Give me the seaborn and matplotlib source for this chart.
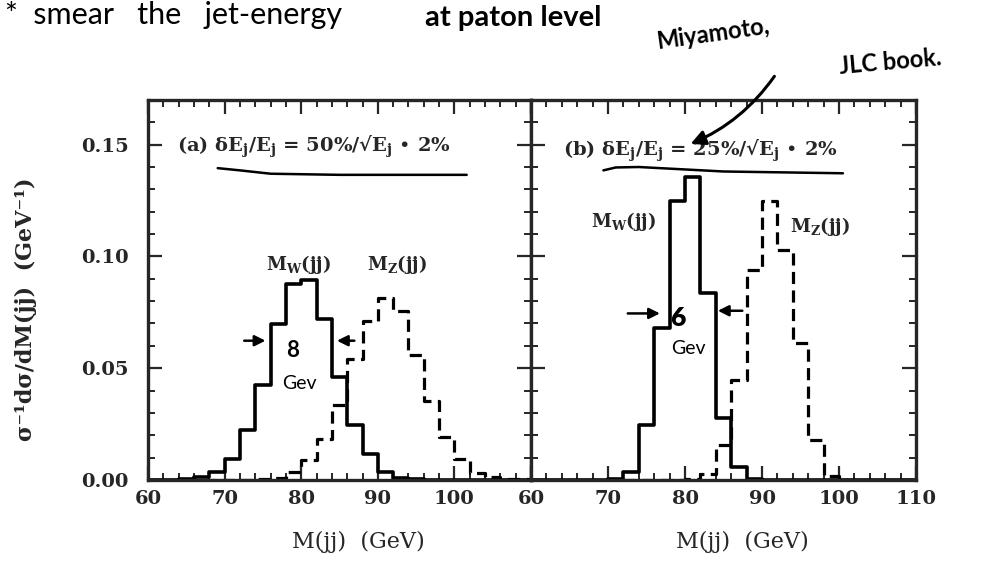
import numpy as np
import pandas as pd
import matplotlib
matplotlib.use("Agg")
import matplotlib.pyplot as plt
import seaborn as sns

# bin edges shared by every histogram (2 GeV bins from 60 to 110 GeV)
edges = list(range(60, 112, 2))
centers = [e + 1 for e in edges[:-1]]

# (a) dE/E = 50%/sqrt(E) (+) 2%
w_a = [0, 0, 0.0005, 0.0015, 0.0037, 0.0092, 0.0222, 0.0426, 0.0697, 0.0875,
       0.0893, 0.0720, 0.0460, 0.0245, 0.0116, 0.0037, 0.0010, 0.0003, 0, 0,
       0, 0, 0, 0, 0]
z_a = [0, 0, 0, 0, 0, 0, 0, 0.0003, 0.0010, 0.0037,
       0.0089, 0.0185, 0.0334, 0.0542, 0.0712, 0.0813, 0.0757, 0.0560, 0.0352, 0.0190,
       0.0092, 0.0033, 0.0012, 0.0005, 0.0003]

# (b) dE/E = 25%/sqrt(E) (+) 2%
w_b = [0, 0, 0, 0, 0, 0.0005, 0.0037, 0.0245, 0.0682, 0.1246,
       0.1357, 0.0835, 0.0278, 0.0059, 0.0005, 0, 0, 0, 0, 0,
       0, 0, 0, 0, 0]
z_b = [0, 0, 0, 0, 0, 0, 0, 0, 0, 0,
       0.0005, 0.0025, 0.0156, 0.0448, 0.0938, 0.1249, 0.1031, 0.0613, 0.0181, 0.0018,
       0, 0, 0, 0, 0]

x_ticks = [60, 70, 80, 90, 100, 110]
y_ticks = [0.00, 0.05, 0.10, 0.15]

sns.set_style("ticks")
plt.rcParams["font.family"] = ["DejaVu Serif", "DejaVu Sans"]
plt.rcParams["mathtext.fontset"] = "dejavuserif"

fig = plt.figure(figsize=(9.9, 5.66), dpi=100)
axL = fig.add_axes([0.1495, 0.152, 0.3869, 0.6714])
axR = fig.add_axes([0.5364, 0.152, 0.3889, 0.6714])

hand = dict(family=["Lato", "DejaVu Sans"], color="black")


def draw_panel(ax, w, z):
    df = pd.DataFrame({"m": centers, "w": w, "z": z})
    sns.histplot(data=df, x="m", weights="w", bins=edges, element="step", fill=False,
                 color="black", linewidth=2.6, ax=ax)
    sns.histplot(data=df, x="m", weights="z", bins=edges, element="step", fill=False,
                 color="black", linewidth=2.3, linestyle=(0, (3.8, 2.0)), ax=ax)
    ax.set_xlim(60, 110)
    ax.set_ylim(0, 0.17)
    ax.set_xticks(x_ticks)
    ax.set_yticks(y_ticks)
    ax.set_xticks(np.arange(60, 111, 2), minor=True)
    ax.set_yticks(np.arange(0, 0.171, 0.01), minor=True)
    ax.tick_params(which="major", direction="in", top=True, right=True,
                   length=10, width=1.6, labelsize=14, pad=7)
    ax.tick_params(which="minor", direction="in", top=True, right=True,
                   length=5, width=1.4)
    for s in ax.spines.values():
        s.set_linewidth(2.4)
    ax.set_xlabel("M(jj)  (GeV)", fontsize=16)
    ax.xaxis.set_label_coords(0.55, -0.135)
    ax.set_ylabel("")


draw_panel(axL, w_a, z_a)
draw_panel(axR, w_b, z_b)

axL.set_xticklabels(["60", "70", "80", "90", "100", ""])
axL.set_yticklabels(["0.00", "0.05", "0.10", "0.15"])
axR.set_xticklabels(["60", "70", "80", "90", "100", "110"])
axR.set_yticklabels([])
for ax in (axL, axR):
    for lbl in ax.get_xticklabels() + ax.get_yticklabels():
        lbl.set_fontweight("bold")
axL.tick_params(axis="y", pad=14)

axL.set_ylabel("σ⁻¹dσ/dM(jj)  (GeV⁻¹)", fontsize=16, fontweight="bold")
axL.yaxis.set_label_coords(-0.29, 0.45)

# panel labels
axL.text(63.8, 0.149, r"(a) δE$_\mathbf{j}$/E$_\mathbf{j}$ = 50%/√E$_\mathbf{j}$ • 2%",
         fontsize=14, fontweight="bold", va="center")
axR.text(64.2, 0.147, r"(b) δE$_\mathbf{j}$/E$_\mathbf{j}$ = 25%/√E$_\mathbf{j}$ • 2%",
         fontsize=14, fontweight="bold", va="center")

axL.text(79.7, 0.0966, r"M$_\mathbf{W}$(jj)", fontsize=13, fontweight="bold", ha="center", va="center")
axL.text(92.5, 0.0966, r"M$_\mathbf{Z}$(jj)", fontsize=13, fontweight="bold", ha="center", va="center")
axR.text(72.0, 0.1157, r"M$_\mathbf{W}$(jj)", fontsize=13, fontweight="bold", ha="center", va="center")
axR.text(97.5, 0.1135, r"M$_\mathbf{Z}$(jj)", fontsize=13, fontweight="bold", ha="center", va="center")

# handwritten underlines
axL.plot([69.1, 72, 76, 85, 101.6], [0.1395, 0.1385, 0.1370, 0.1365, 0.1365],
         color="black", lw=1.8, clip_on=False)
axR.plot([69.4, 71, 74, 85, 100.5], [0.1385, 0.1398, 0.1400, 0.1380, 0.1372],
         color="black", lw=1.8, clip_on=False)

# handwritten FWHM arrows
arrow = dict(arrowstyle="-|>", color="black", lw=1.8, mutation_scale=16)
axL.annotate("", xy=(75.7, 0.0623), xytext=(72.2, 0.0623), arrowprops=arrow)
axL.annotate("", xy=(84.3, 0.0623), xytext=(87.3, 0.0623), arrowprops=arrow)
axL.text(78.9, 0.058, "8", fontsize=16, fontweight="bold", ha="center", va="center", **hand)
axL.text(79.8, 0.043, "Gev", fontsize=14, ha="center", va="center", **hand)
axR.annotate("", xy=(77.1, 0.0745), xytext=(72.2, 0.0745), arrowprops=arrow)
axR.annotate("", xy=(83.9, 0.0757), xytext=(87.8, 0.0757), arrowprops=arrow)
axR.text(79.1, 0.0725, "6", fontsize=19, fontweight="heavy", ha="center", va="center", **hand)
axR.text(80.4, 0.059, "Gev", fontsize=14, ha="center", va="center", **hand)

# handwritten notes at the top of the page
fig.text(5 / 990, 1 - 15 / 566, "*  smear   the   jet-energy", fontsize=22, va="center", **hand)
fig.text(425 / 990, 1 - 18 / 566, "at paton level", fontsize=21, fontweight="bold",
         va="center", **hand)
fig.text(713 / 990, 1 - 34 / 566, "Miyamoto,", fontsize=17, fontweight="bold",
         ha="center", va="center", rotation=8, **hand)
fig.text(890 / 990, 1 - 62 / 566, "JLC book.", fontsize=17, fontweight="bold",
         ha="center", va="center", rotation=5, **hand)
axR.annotate("", xy=(688, 566 - 145), xycoords="figure pixels",
             xytext=(776, 566 - 74), textcoords="figure pixels",
             arrowprops=dict(arrowstyle="-|>", color="black", lw=2.2, mutation_scale=22,
                             connectionstyle="arc3,rad=-0.15"))

fig.savefig("out.png", dpi=100)
